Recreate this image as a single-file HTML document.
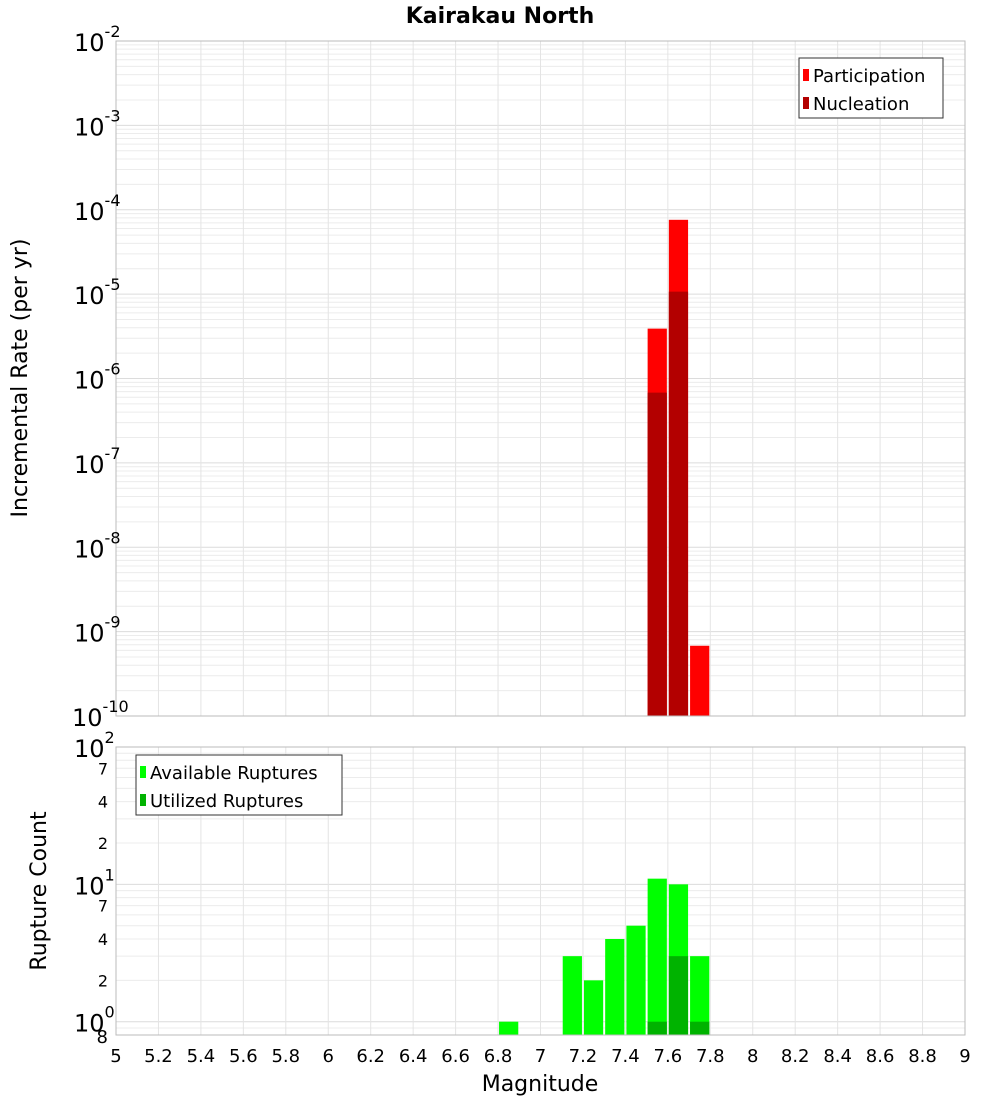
<!DOCTYPE html>
<html><head><meta charset="utf-8"><style>
body{margin:0;background:#fff;}
svg{font-family:"DejaVu Sans","Liberation Sans",sans-serif;}
</style></head><body>
<svg id="c" width="1000" height="1100" xmlns="http://www.w3.org/2000/svg"></svg>
<script>
const binStarts=[6.8,6.9,7.0,7.1,7.2,7.3,7.4,7.5,7.6,7.7];
const participation=[0,0,0,0,0,0,0,3.9e-6,7.6e-5,6.8e-10];
const nucleation=[0,0,0,0,0,0,0,6.8e-7,1.07e-5,0];
const available=[1,0,0,3,2,4,5,11,10,3];
const utilized=[0,0,0,0,0,0,0,1,3,1];
const xTicks=["5","5.2","5.4","5.6","5.8","6","6.2","6.4","6.6","6.8","7","7.2","7.4","7.6","7.8","8","8.2","8.4","8.6","8.8","9"];
const topExps=[-2,-3,-4,-5,-6,-7,-8,-9,-10];
const botMinor=[2,4,7];

const NS="http://www.w3.org/2000/svg";
const svg=document.getElementById('c');
function el(t,a,p){const e=document.createElementNS(NS,t);for(const k in a)e.setAttribute(k,a[k]);(p||svg).appendChild(e);return e;}
const X0=116,X1=965;
const xs=v=>X0+(v-5)/4*(X1-X0);
const T0=41,T1=716;
const ty=v=>T0+(-2-Math.log10(v))/8*(T1-T0);
const B0=747,B1=1035;
const by=v=>B0+(2-Math.log10(v))/(2-Math.log10(0.8))*(B1-B0);

// title
let t=el('text',{x:500,y:23,'text-anchor':'middle','font-size':22,'font-weight':'bold'});t.textContent='Kairakau North';


function panel(y0,y1,yf,lo,hi,name){
  const g=el('g',{});
  el('rect',{x:X0,y:y0,width:X1-X0,height:y1-y0,fill:'#fff'},g);
  for(let e=lo;e<hi;e++)for(let m=1;m<10;m++){const v=m*Math.pow(10,e);const y=yf(v);if(y<y0||y>y1)continue;
    el('line',{x1:X0,x2:X1,y1:y,y2:y,stroke:m==1?'#dcdcdc':'#ececec','stroke-width':1},g);}
  for(let i=0;i<xTicks.length;i++){const x=xs(5+i*0.2);el('line',{x1:x,x2:x,y1:y0,y2:y1,stroke:'#e4e4e4'},g);}
  return g;
}
const gt=panel(T0,T1,ty,-10,-2,'rate-panel');
const gb=panel(B0,B1,by,-1,2,'count-panel');

function bars(arr,yf,base,color,g,name){
  arr.forEach((v,i)=>{if(!v)return;const x=xs(binStarts[i]),w=xs(binStarts[i]+0.1)-x;const y=yf(v);
    const r=el('rect',{x:x+1,y:y,width:w-2,height:base-y,fill:color},g);
    });
}
bars(participation,ty,T1,'#ff0000',gt,'participation-bar');
bars(nucleation,ty,T1,'#b30000',gt,'nucleation-bar');
bars(available,by,B1,'#00ff00',gb,'available-bar');
bars(utilized,by,B1,'#00b300',gb,'utilized-bar');

el('rect',{x:X0,y:T0,width:X1-X0,height:T1-T0,fill:'none',stroke:'#bbb'});
el('rect',{x:X0,y:B0,width:X1-X0,height:B1-B0,fill:'none',stroke:'#bbb'});

// top y labels
topExps.forEach(e=>{const y=ty(Math.pow(10,e));
  const tx=el('text',{x:e==-10?72:74,y:y+10,'font-size':24});tx.textContent='10';
  const s=el('tspan',{dy:-14,'font-size':16},tx);s.textContent=String(e);
  });
// bottom y labels
[[2,747],[1,884],[0,1021]].forEach(([e])=>{const y=by(Math.pow(10,e));
  const tx=el('text',{x:74,y:y+10,'font-size':24});tx.textContent='10';
  const s=el('tspan',{dy:-14,'font-size':16},tx);s.textContent=String(e);
  });
[1,10].forEach(d=>botMinor.forEach(m=>{const tx=el('text',{x:108,y:by(m*d)+6,'font-size':16,'text-anchor':'end'});tx.textContent=String(m);
  }));
let e8=el('text',{x:108,y:by(0.8)+8,'font-size':18,'text-anchor':'end'});e8.textContent='8';


xTicks.forEach((s,i)=>{const tx=el('text',{x:xs(5+i*0.2),y:1062,'font-size':18,'text-anchor':'middle'});tx.textContent=s;
  });

let xt=el('text',{x:540,y:1091,'font-size':22,'text-anchor':'middle'});xt.textContent='Magnitude';

let yt=el('text',{x:0,y:0,'font-size':22,'text-anchor':'middle',transform:'translate(27,378) rotate(-90)'});yt.textContent='Incremental Rate (per yr)';

let yt2=el('text',{x:0,y:0,'font-size':22,'text-anchor':'middle',transform:'translate(46,891) rotate(-90)'});yt2.textContent='Rupture Count';


function legend(x,y,w,items,name){
  const g=el('g',{});
  el('rect',{x:x,y:y,width:w,height:60,fill:'#fff',stroke:'#333'},g);
  items.forEach(([c,l],i)=>{el('rect',{x:x+4,y:y+11+i*28,width:6,height:12,fill:c},g);
    const tx=el('text',{x:x+14,y:y+24+i*28,'font-size':18},g);tx.textContent=l;});
}
legend(799,58,144,[['#ff0000','Participation'],['#b30000','Nucleation']],'rate-legend');
legend(136,755,206,[['#00ff00','Available Ruptures'],['#00b300','Utilized Ruptures']],'count-legend');
</script>
</body></html>
